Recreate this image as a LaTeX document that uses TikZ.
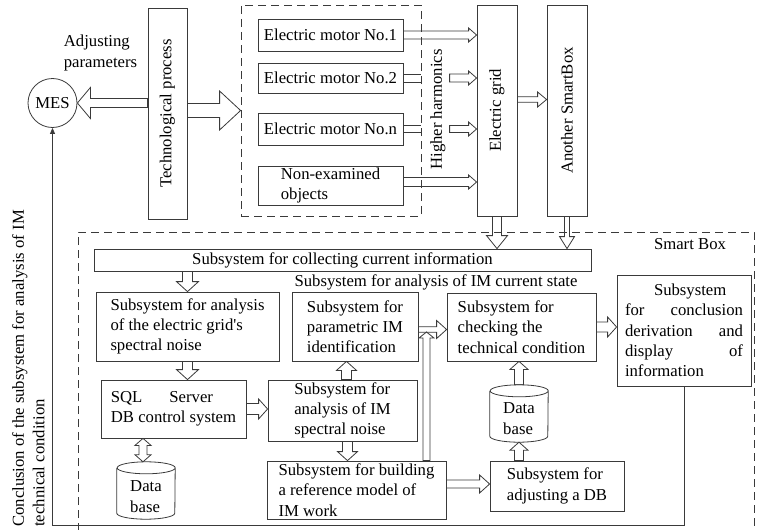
\documentclass[tikz,border=0pt]{standalone}
\usepackage{fontspec}
\setmainfont{Liberation Serif}
\usetikzlibrary{calc,arrows.meta}
\definecolor{lc}{HTML}{3A3A3A}
\tikzset{arr/.style={draw=lc, line width=0.8pt, line join=miter}}
\newcommand{\straightq}{{\addfontfeatures{Ligatures=TeXOff}'}}
% block arrow: #1 start, #2 end, #3 shaft half width, #4 head half width, #5 head length
\newcommand{\barrow}[5]{%
  \path #1 coordinate (baS) #2 coordinate (baE);
  \pgfpointdiff{\pgfpointanchor{baS}{center}}{\pgfpointanchor{baE}{center}}%
  \pgfgetlastxy{\badx}{\bady}%
  \pgfmathsetmacro\baA{atan2(\bady,\badx)}%
  \pgfmathsetmacro\baL{veclen(\badx,\bady)}%
  \begin{scope}[shift={(baS)}, rotate=\baA, x=1pt, y=1pt]
    \draw[arr] (0,-#3) -- (\baL-#5,-#3) -- (\baL-#5,-#4) -- (\baL,0) -- (\baL-#5,#4) -- (\baL-#5,#3) -- (0,#3) -- cycle;
  \end{scope}}
\newcommand{\barrowboth}[5]{%
  \path #1 coordinate (baS) #2 coordinate (baE);
  \pgfpointdiff{\pgfpointanchor{baS}{center}}{\pgfpointanchor{baE}{center}}%
  \pgfgetlastxy{\badx}{\bady}%
  \pgfmathsetmacro\baA{atan2(\bady,\badx)}%
  \pgfmathsetmacro\baL{veclen(\badx,\bady)}%
  \begin{scope}[shift={(baS)}, rotate=\baA, x=1pt, y=1pt]
    \draw[arr] (0,0) -- (#5,#4) -- (#5,#3) -- (\baL-#5,#3) -- (\baL-#5,#4) -- (\baL,0) -- (\baL-#5,-#4) -- (\baL-#5,-#3) -- (#5,-#3) -- (#5,-#4) -- cycle;
  \end{scope}}
\newcommand{\bstub}[3]{%
  \path #1 coordinate (baS) #2 coordinate (baE);
  \pgfpointdiff{\pgfpointanchor{baS}{center}}{\pgfpointanchor{baE}{center}}%
  \pgfgetlastxy{\badx}{\bady}%
  \pgfmathsetmacro\baA{atan2(\bady,\badx)}%
  \pgfmathsetmacro\baL{veclen(\badx,\bady)}%
  \begin{scope}[shift={(baS)}, rotate=\baA, x=1pt, y=1pt]
    \draw[arr] (0,-#3) -- (\baL,-#3) (0,#3) -- (\baL,#3);
  \end{scope}}
\begin{document}
\begin{tikzpicture}[x=1pt,y=-1pt,
  every node/.style={font=\fontsize{16.7}{20.3}\selectfont, inner sep=0pt, text=black},
  box/.style={draw=lc, line width=0.8pt, align=left},
  dbox/.style={draw=lc, line width=0.8pt, dash pattern=on 8pt off 5pt},
  line/.style={draw=lc, line width=0.8pt}]
\useasboundingbox (0,0) rectangle (758,530);

% top part
\node[circle, draw=lc, line width=0.8pt, minimum size=49pt] (mes) at (52.5,103) {MES};
\node[align=left] (adj0) at (100.5,53) {Adjusting\\parameters};
\node[box, minimum width=39pt, minimum height=211pt] (tech) at (167.5,113.5) {};
\node[rotate=90] (techt) at (tech.center) {Technological process};
\node[dbox, minimum width=180pt, minimum height=211pt] (group) at (331,110.5) {};
\node[box, minimum width=145pt, minimum height=32pt] (m1) at (330.5,35) {Electric motor No.1};
\node[box, minimum width=145pt, minimum height=30pt] (m2) at (330.5,78) {Electric motor No.2};
\node[box, minimum width=145pt, minimum height=32pt] (mn) at (330.5,129) {Electric motor No.n};
\node[box, minimum width=145pt, minimum height=39pt] (mo) at (330.5,185.5) {Non-examined\\objects};
\node[rotate=90] (hh) at (438,109.5) {Higher harmonics};
\node[box, minimum width=40pt, minimum height=211pt] (grid) at (497,110.5) {};
\node[rotate=90] (gridt) at (grid.center) {Electric grid};
\node[box, minimum width=40pt, minimum height=211pt] (another) at (567,110.5) {};
\node[rotate=90] (anothert) at (another.center) {Another SmartBox};

% smart box frame
\coordinate (sb1) at (78,531);
\coordinate (sb2) at (78,232);
\coordinate (sb3) at (754,232);
\coordinate (sb4) at (754,531);
\draw[dbox] (sb1) -- (sb2) -- (sb3) -- (sb4);
\node (sbl) at (690,244) {Smart Box};

% smart box contents
\node[box, minimum width=497pt, minimum height=22pt] (collect) at (342.5,260) {Subsystem for collecting current information};
\node (lbl) at (436,282) {Subsystem for analysis of IM current state};
\node[box, minimum width=183pt, minimum height=69pt] (agrid) at (187.5,326.5) {Subsystem for analysis\\of the electric grid\straightq s\\spectral noise};
\node[box, minimum width=145pt, minimum height=58pt] (sql) at (173.5,409) {SQL\hspace*{27pt}Server\\DB control system};
\node[minimum width=58pt, minimum height=57pt] (db1) at (146,490.5) {};
\draw[line] ([yshift=-6pt]db1.north west) -- ([yshift=6pt]db1.south west)
  arc[start angle=180, end angle=360, x radius=29pt, y radius=6pt]
  -- ([yshift=-6pt]db1.north east)
  arc[start angle=0, end angle=180, x radius=29pt, y radius=6pt]
  arc[start angle=180, end angle=360, x radius=29pt, y radius=6pt];
\node[align=left] (db1t) at ([yshift=-6pt]db1.center) {Data\\base};
\node[box, minimum width=149pt, minimum height=61pt] (spec) at (342.5,410.5) {Subsystem for\\analysis of IM\\spectral noise};
\node[box, minimum width=126pt, minimum height=69pt] (param) at (355,326.5) {Subsystem for\\parametric IM\\identification};
\node[box, minimum width=179pt, minimum height=58pt] (build) at (356.5,490) {Subsystem for building\\a reference model of\\IM work};
\node[box, minimum width=149pt, minimum height=68pt] (check) at (521.5,327) {Subsystem for\\checking the\\technical condition};
\node[box, minimum width=134pt, minimum height=111pt] (concl) at (684,330.5) {};
\node[align=left, text width=118pt] (conclt) at (concl.center) {\hspace*{29pt}Subsystem\\for\hfill conclusion\\derivation\hfill and\\display\hfill of\\information};
\node[minimum width=58pt, minimum height=57pt] (db2) at (519,413.5) {};
\draw[line] ([yshift=-6pt]db2.north west) -- ([yshift=6pt]db2.south west)
  arc[start angle=180, end angle=360, x radius=29pt, y radius=6pt]
  -- ([yshift=-6pt]db2.north east)
  arc[start angle=0, end angle=180, x radius=29pt, y radius=6pt]
  arc[start angle=180, end angle=360, x radius=29pt, y radius=6pt];
\node[align=left] (db2t) at ([yshift=-5pt]db2.center) {Data\\base};
\node[box, minimum width=134pt, minimum height=50pt] (adj) at (557,486) {Subsystem for\\adjusting a DB};

% left rotated text
\node[rotate=90, anchor=north west, align=left] (cnl) at (12,527) {Conclusion of the subsystem for analysis of IM\\technical condition};

% block arrows, top
\barrow{(tech.west |- mes.center)}{(mes.east)}{4.5}{15.5}{13}
\barrow{(tech.east |- group.west)}{(group.west)}{7}{19.5}{21}
\barrow{(m1.east)}{(grid.west |- m1.east)}{4}{7}{8}
\bstub{(m2.east)}{(group.east |- m2.east)}{4}
\barrow{($(grid.west |- m2.east)+(-27,0)$)}{(grid.west |- m2.east)}{4}{7}{8}
\bstub{(mn.east)}{(group.east |- mn.east)}{3.5}
\barrow{($(grid.west |- mn.east)+(-27,0)$)}{(grid.west |- mn.east)}{3.5}{7}{8}
\barrow{($(mo.east)+(0,-3.5)$)}{($(grid.west |- mo.east)+(0,-3.5)$)}{4.5}{7}{8}
\barrow{($(grid.east)+(0,-11)$)}{($(another.west)+(0,-11)$)}{2.7}{7.5}{9}
\barrow{(grid.south)}{(grid.south |- collect.north)}{4.5}{10.5}{13}
\barrow{(another.south)}{(another.south |- collect.north)}{2.5}{7.5}{12}

% block arrows, smart box
\barrow{(agrid.north |- collect.south)}{(agrid.north)}{5}{11}{10}
\barrow{(agrid.south)}{(agrid.south |- sql.north)}{5}{11}{10}
\coordinate (dbx) at ($(db1.north)+(-3,0)$);
\barrowboth{(dbx |- sql.south)}{(dbx)}{4}{8}{7}
\barrow{(sql.east)}{(spec.west |- sql.east)}{5.5}{10}{9}
\coordinate (sx1) at ($(spec.north)+(4,0)$);
\barrow{(sx1)}{(sx1 |- param.south)}{5}{10}{9}
\coordinate (sx2) at ($(spec.south)+(5,0)$);
\barrow{(sx2)}{(sx2 |- build.north)}{5}{10}{9}
\coordinate (bx) at ($(build.north)+(70,0)$);
\coordinate (btip) at ($(bx |- param.east)+(0,5.5)$);
\barrow{(bx)}{(btip)}{3.5}{7.5}{6}
\barrow{($(param.east)+(0,3)$)}{($(check.west |- param.east)+(0,3)$)}{2.7}{9}{10}
\barrow{(check.east)}{(concl.west |- check.east)}{5}{10}{9}
\barrow{(db2.north)}{(db2.north |- check.south)}{4.5}{9}{8}
\barrow{(db2.south |- adj.north)}{(db2.south)}{4.5}{9}{8}
\barrow{($(build.east)+(0,-6)$)}{($(adj.west |- build.east)+(0,-6)$)}{4}{9}{10}

% feedback line
\coordinate (fb) at (52.5,525);
\draw[line, -{Triangle[length=6pt,width=5pt]}] (concl.south) |- (fb) -- (mes.south);
\end{tikzpicture}
\end{document}
